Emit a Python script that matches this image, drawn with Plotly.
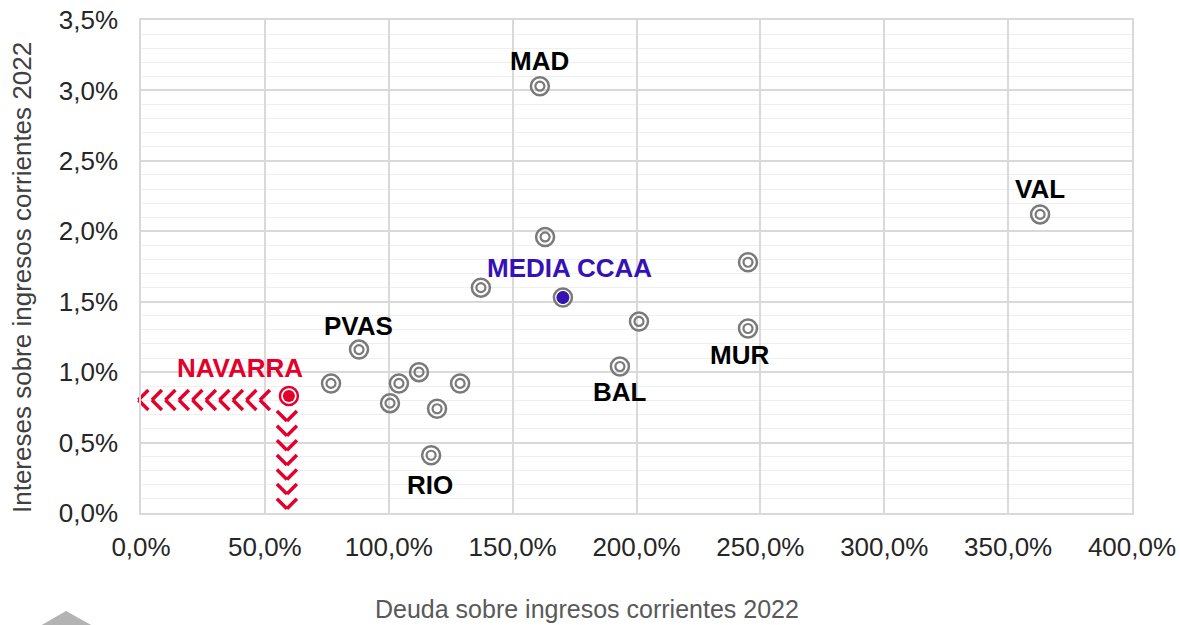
import plotly.graph_objects as go

# Deuda / ingresos corrientes (%) e intereses / ingresos corrientes (%) - 2022
deuda = [161.0, 362.9, 163.1, 137.2, 245.0, 245.0, 201.0, 193.3,
         88.0, 76.7, 104.1, 112.2, 128.8, 100.5, 119.5, 117.1]
intereses = [3.03, 2.12, 1.96, 1.60, 1.78, 1.31, 1.36, 1.04,
             1.16, 0.92, 0.92, 1.00, 0.92, 0.78, 0.74, 0.41]
etiquetas = ["MAD", "VAL", "", "", "", "MUR", "", "BAL",
             "PVAS", "", "", "", "", "", "", "RIO"]
# desplazamiento de cada etiqueta (px)
desp_x = [0, 0, 0, 0, 0, -8, 0, 0, -1, 0, 0, 0, 0, 0, 0, -1]
desp_y = [25, 25, 0, 0, 0, -27, 0, -25, 24, 0, 0, 0, 0, 0, 0, -30]

media_x, media_y = 170.3, 1.53
navarra_x, navarra_y = 59.7, 0.83

titulo_x = "Deuda sobre ingresos corrientes 2022"
titulo_y = "Intereses sobre ingresos corrientes 2022"

W, H = 1180, 625
L, R, T, B = 141, 48, 20, 112
X_RANGE = [0, 400]
Y_RANGE = [0, 3.5]
px_x = (X_RANGE[1] - X_RANGE[0]) / (W - L - R)   # data units per pixel
px_y = (Y_RANGE[1] - Y_RANGE[0]) / (H - T - B)

GRIS = "#7a7a7a"
ROJO = "#e4002b"
AZUL = "#3512b6"
FONT = "Liberation Sans, Arial, sans-serif"


def to_paper(px, py):
    # pixeles -> coordenadas paper
    return (px - L) / (W - L - R), (H - B - py) / (H - T - B)


fig = go.Figure()

# anillos grises (doble circulo)
fig.add_trace(go.Scatter(x=deuda, y=intereses, mode="markers", cliponaxis=False,
                         marker=dict(symbol="circle-open", size=18,
                                     line=dict(color=GRIS, width=2.5), color=GRIS),
                         hoverinfo="skip", showlegend=False))
fig.add_trace(go.Scatter(x=deuda, y=intereses, mode="markers", cliponaxis=False,
                         marker=dict(symbol="circle-open", size=9,
                                     line=dict(color=GRIS, width=2.2), color=GRIS),
                         hoverinfo="skip", showlegend=False))

# media CCAA
fig.add_trace(go.Scatter(x=[media_x], y=[media_y], mode="markers",
                         marker=dict(symbol="circle-open", size=18, color=GRIS,
                                     line=dict(color=GRIS, width=2.5)),
                         hoverinfo="skip", showlegend=False))
fig.add_trace(go.Scatter(x=[media_x], y=[media_y], mode="markers",
                         marker=dict(symbol="circle", size=12, color=AZUL,
                                     line=dict(color="#26108a", width=1)),
                         hoverinfo="skip", showlegend=False))

# chevrones de Navarra (flechas hacia los ejes)
step_h = 13.5 * px_x
arm_x, arm_y = 5 * px_x, 5 * px_y
ch_x, ch_y, ch_sym = [], [], []
for k in range(10):
    tip = navarra_x - 29 * px_x - k * step_h
    ch_x += [tip + arm_x, tip + arm_x]
    ch_y += [navarra_y - 4 * px_y + arm_y, navarra_y - 4 * px_y - arm_y]
    ch_sym += ["line-ne", "line-nw"]
step_v = 14.6 * px_y
for k in range(8):
    tip = navarra_y - 25 * px_y - k * step_v
    cx = navarra_x - 2 * px_x
    ch_x += [cx - arm_x, cx + arm_x]
    ch_y += [tip + arm_y, tip + arm_y]
    ch_sym += ["line-nw", "line-ne"]
fig.add_trace(go.Scatter(x=ch_x, y=ch_y, mode="markers", cliponaxis=False,
                         marker=dict(symbol=ch_sym, size=10, color=ROJO,
                                     line=dict(color=ROJO, width=3.5)),
                         hoverinfo="skip", showlegend=False))

# Navarra
fig.add_trace(go.Scatter(x=[navarra_x], y=[navarra_y], mode="markers",
                         marker=dict(symbol="circle-open", size=18, color=ROJO,
                                     line=dict(color=ROJO, width=2.5)),
                         hoverinfo="skip", showlegend=False))
fig.add_trace(go.Scatter(x=[navarra_x], y=[navarra_y], mode="markers",
                         marker=dict(symbol="circle", size=12, color=ROJO),
                         hoverinfo="skip", showlegend=False))

for x, y, t, dx, dy in zip(deuda, intereses, etiquetas, desp_x, desp_y):
    if t:
        fig.add_annotation(x=x, y=y, text="<b>" + t + "</b>", showarrow=False,
                           xshift=dx, yshift=dy,
                           font=dict(family=FONT, size=26, color="#000000"))
fig.add_annotation(x=media_x, y=media_y, text="<b>MEDIA CCAA</b>", showarrow=False,
                   xshift=7, yshift=29, font=dict(family=FONT, size=26, color=AZUL))
fig.add_annotation(x=navarra_x, y=navarra_y, text="<b>NAVARRA</b>", showarrow=False,
                   xshift=-49, yshift=28, font=dict(family=FONT, size=26, color=ROJO))

# titulos de los ejes
tx = to_paper(587, 609)
fig.add_annotation(xref="paper", yref="paper", x=tx[0], y=tx[1], text=titulo_x,
                   showarrow=False, xanchor="center", yanchor="middle",
                   font=dict(family=FONT, size=25, color="#595959"))
ty = to_paper(22, 278)
fig.add_annotation(xref="paper", yref="paper", x=ty[0], y=ty[1], text=titulo_y,
                   showarrow=False, xanchor="center", yanchor="middle", textangle=-90,
                   font=dict(family=FONT, size=26, color="#404040"))

# forma gris de la esquina inferior izquierda
a = to_paper(40, 626)
b = to_paper(66, 611)
c = to_paper(93, 626)
fig.add_shape(type="path", xref="paper", yref="paper", layer="above",
              path=f"M{a[0]},{a[1]} L{b[0]},{b[1]} L{c[0]},{c[1]} Z",
              fillcolor="#b3b3b3", line=dict(width=0))

fig.update_layout(
    width=W, height=H,
    margin=dict(l=L, r=R, t=T, b=B),
    paper_bgcolor="white", plot_bgcolor="white",
    separators=",.",
    font=dict(family=FONT, size=26, color="#262626"),
)
fig.update_xaxes(
    range=X_RANGE, dtick=50, tickformat=".1f", ticksuffix="%",
    automargin=False, ticklabeloverflow="allow",
    showgrid=True, gridcolor="#d9d9d9", gridwidth=1.5,
    showline=True, linecolor="#d9d9d9", linewidth=1.5, mirror=True,
    zeroline=False, ticks="", ticklabelstandoff=10,
    tickfont=dict(size=26, color="#262626"),
)
fig.update_yaxes(
    range=Y_RANGE, dtick=0.5, tickformat=".1f", ticksuffix="%",
    automargin=False, ticklabeloverflow="allow",
    showgrid=True, gridcolor="#d9d9d9", gridwidth=1.5,
    minor=dict(dtick=0.1, showgrid=True, gridcolor="#efefef", gridwidth=1),
    showline=True, linecolor="#d9d9d9", linewidth=1.5, mirror=True,
    zeroline=False, ticks="", ticklabelstandoff=16,
    tickfont=dict(size=26, color="#262626"),
)

# sin margen en el body para que la figura ocupe toda la ventana
fig.write_html("out.html", config={"displayModeBar": False},
               post_script="document.body.style.margin='0';")
